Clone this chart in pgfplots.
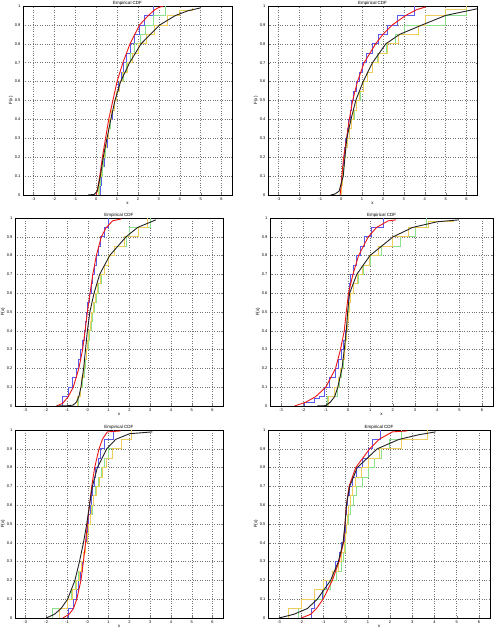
\documentclass[border=0pt]{standalone}
\usepackage{fontspec}
\setmainfont{Liberation Sans}
\usepackage{pgfplots}
\pgfplotsset{compat=1.18}

\definecolor{cdfred}{RGB}{240,20,20}
\definecolor{cdfblue}{RGB}{90,90,235}
\definecolor{cdfgreen}{RGB}{140,225,140}
\definecolor{cdfyellow}{RGB}{238,205,90}
\definecolor{cdfblack}{RGB}{35,35,35}

\pgfplotsset{
  ecdfpanel/.style={
    scale only axis, anchor=south west,
    xmin=-3.5, xmax=6.5, ymin=0, ymax=1,
    xtick={-3,-2,-1,0,1,2,3,4,5,6},
    ytick={0,0.1,0.2,0.3,0.4,0.5,0.6,0.7,0.8,0.9,1},
    grid=major, grid style={dotted, black!55, line width=0.45pt},
    tick align=inside, major tick length=1.5pt,
    tick label style={font=\fontsize{4}{4}\selectfont},
    /pgf/number format/assume math mode=true,
    xticklabel style={yshift=1pt}, yticklabel style={xshift=1pt},
    title={Empirical CDF},
    % default title style already carries yshift=6pt, shifts add up
    title style={font=\fontsize{4.5}{5}\selectfont, anchor=south, yshift=-6pt, inner sep=0.4pt},
    xlabel={x}, ylabel={F(x)},
    label style={font=\fontsize{4.5}{5}\selectfont},
    xlabel style={yshift=5pt}, ylabel style={yshift=-5pt},
    axis line style={line width=0.4pt},
  },
  stp/.style={const plot, line width=0.7pt, mark=none},
  crv/.style={line width=0.9pt, mark=none},
}

\begin{document}
\begin{tikzpicture}[x=1pt,y=1pt]
\useasboundingbox (0,0) rectangle (494,629);

% ---- panel 1 ----
\begin{axis}[ecdfpanel, at={(23pt,434pt)}, width=209pt, height=189pt]
\addplot[stp, cdfblue] coordinates {(0.18,0)(0.18,0.05)(0.25,0.1)(0.32,0.15)(0.38,0.2)(0.45,0.25)(0.52,0.3)(0.6,0.35)(0.68,0.4)(0.77,0.45)(0.85,0.5)(0.95,0.55)(1.05,0.6)(1.2,0.65)(1.3,0.7)(1.45,0.75)(1.62,0.8)(1.85,0.85)(2.08,0.9)(2.3,0.95)(2.75,1)};
\addplot[stp, cdfgreen] coordinates {(0.15,0)(0.15,0.05)(0.22,0.1)(0.28,0.15)(0.35,0.2)(0.42,0.25)(0.5,0.3)(0.58,0.35)(0.66,0.4)(0.75,0.45)(0.85,0.5)(0.98,0.55)(1.12,0.6)(1.28,0.65)(1.45,0.7)(1.65,0.75)(1.85,0.8)(2.1,0.85)(2.35,0.9)(2.75,0.95)(3.33,1)};
\addplot[stp, cdfyellow] coordinates {(0.1,0)(0.1,0.05)(0.17,0.1)(0.24,0.15)(0.3,0.2)(0.38,0.25)(0.48,0.3)(0.56,0.35)(0.65,0.4)(0.75,0.45)(0.85,0.5)(0.96,0.55)(1.1,0.6)(1.27,0.65)(1.5,0.7)(1.73,0.75)(2.0,0.8)(2.38,0.85)(2.8,0.9)(3.4,0.95)(4.0,0.975)(4.6,0.99)};
\addplot[crv, cdfred] coordinates {(0,0)(0.1,0.05)(0.2,0.12)(0.3,0.2)(0.45,0.3)(0.6,0.4)(0.8,0.5)(1.0,0.6)(1.28,0.7)(1.62,0.8)(2.08,0.9)(2.5,0.95)(2.8,0.98)(3.05,0.995)(3.2,0.997)};
\addplot[crv, cdfblack] coordinates {(-0.4,0)(-0.1,0.003)(0.05,0.02)(0.2,0.1)(0.34,0.2)(0.52,0.3)(0.7,0.4)(0.9,0.5)(1.17,0.6)(1.6,0.7)(2.15,0.8)(3.05,0.9)(3.8,0.95)(4.4,0.975)(5.0,0.99)};
\end{axis}

% ---- panel 2 ----
\begin{axis}[ecdfpanel, at={(268pt,434pt)}, width=209pt, height=189pt]
\addplot[stp, cdfblue] coordinates {(0,0)(0,0.05)(0.03,0.1)(0.06,0.15)(0.1,0.2)(0.15,0.25)(0.22,0.3)(0.29,0.35)(0.35,0.4)(0.43,0.45)(0.5,0.5)(0.6,0.55)(0.72,0.6)(0.85,0.65)(1.0,0.7)(1.2,0.75)(1.5,0.8)(1.8,0.85)(2.2,0.9)(2.7,0.95)(3.5,1)};
\addplot[stp, cdfgreen] coordinates {(0,0)(0,0.05)(0.05,0.1)(0.1,0.15)(0.15,0.2)(0.22,0.25)(0.3,0.3)(0.4,0.35)(0.5,0.4)(0.62,0.45)(0.75,0.5)(0.9,0.55)(1.05,0.6)(1.25,0.65)(1.5,0.7)(1.75,0.75)(2.15,0.8)(2.6,0.85)(3.0,0.9)(5.0,0.95)(6.0,0.98)};
\addplot[stp, cdfyellow] coordinates {(0,0)(0,0.05)(0.04,0.1)(0.08,0.15)(0.13,0.2)(0.2,0.25)(0.28,0.3)(0.38,0.35)(0.48,0.4)(0.6,0.45)(0.72,0.5)(0.88,0.55)(1.05,0.6)(1.25,0.65)(1.5,0.7)(1.8,0.75)(2.2,0.8)(2.75,0.85)(3.7,0.9)(4.05,0.95)(5.0,0.98)(6.0,1)};
\addplot[crv, cdfred] coordinates {(-0.05,0)(0,0.05)(0.05,0.12)(0.12,0.2)(0.26,0.3)(0.39,0.4)(0.55,0.5)(0.78,0.6)(1.1,0.7)(1.65,0.8)(2.0,0.85)(2.45,0.9)(3.09,0.95)(3.6,0.98)(4.04,0.995)};
\addplot[crv, cdfblack] coordinates {(-0.5,0)(-0.3,0.005)(-0.1,0.02)(0,0.06)(0.1,0.1)(0.18,0.2)(0.27,0.3)(0.47,0.4)(0.7,0.5)(1.05,0.6)(1.5,0.7)(2.14,0.8)(2.8,0.85)(3.88,0.9)(5.0,0.95)(6.5,0.985)};
\end{axis}

% ---- panel 3 ----
\begin{axis}[ecdfpanel, at={(15pt,223pt)}, width=208pt, height=188pt]
\addplot[stp, cdfblue] coordinates {(-1.2,0)(-1.2,0.05)(-0.95,0.1)(-0.75,0.15)(-0.55,0.2)(-0.45,0.25)(-0.35,0.3)(-0.25,0.35)(-0.18,0.4)(-0.12,0.45)(-0.05,0.5)(0.0,0.55)(0.08,0.6)(0.15,0.65)(0.22,0.7)(0.3,0.75)(0.4,0.8)(0.5,0.85)(0.62,0.9)(0.78,0.95)(1.0,1)};
\addplot[stp, cdfgreen] coordinates {(-0.45,0)(-0.45,0.05)(-0.35,0.1)(-0.25,0.15)(-0.18,0.2)(-0.1,0.25)(-0.05,0.3)(0.02,0.35)(0.08,0.4)(0.15,0.45)(0.22,0.5)(0.3,0.55)(0.4,0.6)(0.5,0.65)(0.65,0.7)(0.8,0.75)(1.0,0.8)(1.3,0.85)(1.85,0.9)(2.0,0.95)(3.0,1)};
\addplot[stp, cdfyellow] coordinates {(-0.5,0)(-0.5,0.05)(-0.38,0.1)(-0.3,0.15)(-0.22,0.2)(-0.15,0.25)(-0.08,0.3)(-0.02,0.35)(0.04,0.4)(0.1,0.45)(0.18,0.5)(0.25,0.55)(0.35,0.6)(0.45,0.65)(0.6,0.7)(0.78,0.75)(1.0,0.8)(1.3,0.85)(1.75,0.9)(2.45,0.95)(2.85,1)};
\addplot[crv, cdfred] coordinates {(-1.5,0)(-1.2,0.015)(-0.94,0.05)(-0.7,0.1)(-0.43,0.2)(-0.25,0.3)(-0.13,0.4)(-0.02,0.5)(0.11,0.6)(0.24,0.7)(0.41,0.8)(0.65,0.9)(0.89,0.95)(1.2,0.985)(1.6,0.995)};
\addplot[crv, cdfblack] coordinates {(-1.5,0)(-1.0,0.001)(-0.7,0.005)(-0.55,0.02)(-0.43,0.05)(-0.33,0.1)(-0.2,0.2)(-0.11,0.3)(-0.02,0.4)(0.1,0.5)(0.3,0.6)(0.57,0.7)(1.05,0.8)(1.84,0.9)(2.4,0.95)(3.27,0.99)};
\end{axis}

% ---- panel 4 ----
\begin{axis}[ecdfpanel, at={(270pt,223pt)}, width=223pt, height=188pt]
\addplot[stp, cdfblue] coordinates {(-1.95,0)(-1.95,0.02)(-1.5,0.04)(-1.3,0.05)(-1.05,0.1)(-0.85,0.15)(-0.55,0.2)(-0.42,0.25)(-0.32,0.3)(-0.22,0.35)(-0.12,0.4)(-0.05,0.5)(0.0,0.6)(0.05,0.65)(0.12,0.7)(0.22,0.75)(0.35,0.8)(0.55,0.85)(0.75,0.9)(1.05,0.95)(1.6,1)};
\addplot[stp, cdfgreen] coordinates {(-0.95,0)(-0.95,0.05)(-0.5,0.1)(-0.38,0.15)(-0.3,0.2)(-0.22,0.25)(-0.17,0.3)(-0.12,0.35)(-0.08,0.4)(-0.05,0.45)(-0.02,0.5)(0.03,0.55)(0.1,0.6)(0.25,0.65)(0.45,0.7)(0.7,0.75)(1.0,0.8)(1.5,0.85)(2.35,0.9)(3.0,0.95)(3.5,1)};
\addplot[stp, cdfyellow] coordinates {(-0.9,0)(-0.9,0.05)(-0.6,0.1)(-0.45,0.15)(-0.33,0.2)(-0.25,0.25)(-0.18,0.3)(-0.12,0.35)(-0.07,0.4)(-0.03,0.45)(0.0,0.5)(0.04,0.55)(0.1,0.6)(0.22,0.65)(0.4,0.7)(0.65,0.75)(0.95,0.8)(1.35,0.85)(2.0,0.9)(2.7,0.95)(3.6,0.98)(4.7,0.99)};
\addplot[crv, cdfred] coordinates {(-2.4,0)(-1.9,0.02)(-1.45,0.05)(-1.0,0.1)(-0.56,0.2)(-0.34,0.3)(-0.17,0.4)(-0.08,0.5)(0.02,0.6)(0.22,0.7)(0.47,0.8)(0.91,0.9)(1.28,0.95)(1.8,0.985)(2.15,0.99)};
\addplot[crv, cdfblack] coordinates {(-1.4,0)(-1.0,0.002)(-0.8,0.02)(-0.6,0.05)(-0.46,0.1)(-0.27,0.2)(-0.17,0.3)(-0.08,0.4)(-0.02,0.5)(0.07,0.6)(0.39,0.7)(0.98,0.8)(2.02,0.9)(2.9,0.95)(4.0,0.98)(4.97,0.99)};
\end{axis}

% ---- panel 5 ----
\begin{axis}[ecdfpanel, at={(15pt,11pt)}, width=208pt, height=188pt]
\addplot[stp, cdfblue] coordinates {(-0.95,0)(-0.95,0.05)(-0.7,0.1)(-0.55,0.15)(-0.45,0.2)(-0.35,0.25)(-0.28,0.3)(-0.2,0.35)(-0.12,0.4)(-0.05,0.45)(0.0,0.5)(0.05,0.55)(0.1,0.6)(0.15,0.65)(0.22,0.7)(0.3,0.75)(0.38,0.8)(0.5,0.85)(0.6,0.9)(0.8,0.95)(1.25,1)};
\addplot[stp, cdfgreen] coordinates {(-1.7,0)(-1.7,0.05)(-1.0,0.1)(-0.8,0.15)(-0.6,0.2)(-0.45,0.25)(-0.3,0.3)(-0.2,0.35)(-0.1,0.4)(-0.02,0.45)(0.05,0.5)(0.12,0.55)(0.2,0.6)(0.28,0.65)(0.38,0.7)(0.5,0.75)(0.65,0.8)(0.8,0.85)(1.0,0.9)(1.6,0.95)(2.1,1)};
\addplot[stp, cdfyellow] coordinates {(-1.35,0)(-1.35,0.05)(-1.0,0.1)(-0.75,0.15)(-0.55,0.2)(-0.42,0.25)(-0.3,0.3)(-0.2,0.35)(-0.1,0.4)(-0.03,0.45)(0.03,0.5)(0.1,0.55)(0.18,0.6)(0.28,0.65)(0.4,0.7)(0.55,0.75)(0.7,0.8)(0.9,0.85)(1.2,0.9)(1.6,0.95)(2.1,1)};
\addplot[crv, cdfred] coordinates {(-1.2,0)(-0.9,0.02)(-0.69,0.05)(-0.53,0.1)(-0.33,0.2)(-0.21,0.3)(-0.11,0.4)(-0.02,0.5)(0.08,0.6)(0.19,0.7)(0.33,0.8)(0.54,0.9)(0.7,0.95)(0.94,0.99)(1.58,0.995)};
\addplot[crv, cdfblack] coordinates {(-2.0,0)(-1.6,0.02)(-1.29,0.05)(-0.97,0.1)(-0.62,0.2)(-0.4,0.3)(-0.21,0.4)(-0.05,0.5)(0.08,0.6)(0.22,0.7)(0.46,0.8)(0.91,0.9)(1.34,0.95)(2.0,0.98)(3.1,0.99)};
\end{axis}

% ---- panel 6 ----
\begin{axis}[ecdfpanel, at={(268pt,11pt)}, width=222pt, height=188pt]
\addplot[stp, cdfblue] coordinates {(-1.55,0)(-1.55,0.05)(-1.4,0.1)(-1.05,0.15)(-0.85,0.2)(-0.6,0.25)(-0.45,0.3)(-0.3,0.35)(-0.18,0.4)(-0.08,0.45)(-0.02,0.5)(0.0,0.55)(0.03,0.6)(0.08,0.65)(0.15,0.7)(0.3,0.75)(0.5,0.8)(0.75,0.85)(1.0,0.9)(1.2,0.95)(1.55,1)};
\addplot[stp, cdfgreen] coordinates {(-2.15,0)(-2.15,0.05)(-2.0,0.1)(-1.0,0.15)(-0.7,0.2)(-0.4,0.25)(-0.2,0.3)(-0.1,0.35)(-0.03,0.4)(0.0,0.45)(0.05,0.5)(0.1,0.55)(0.2,0.6)(0.35,0.65)(0.5,0.7)(0.75,0.75)(1.0,0.8)(1.3,0.85)(1.6,0.9)(1.95,0.95)(2.5,1)};
\addplot[stp, cdfyellow] coordinates {(-2.6,0)(-2.6,0.05)(-2.0,0.1)(-1.4,0.15)(-1.0,0.2)(-0.6,0.25)(-0.35,0.3)(-0.18,0.35)(-0.08,0.4)(-0.02,0.45)(0.02,0.5)(0.06,0.55)(0.12,0.6)(0.2,0.65)(0.3,0.7)(0.45,0.75)(0.7,0.8)(1.0,0.85)(1.5,0.9)(2.5,0.95)(3.7,1)};
\addplot[crv, cdfred] coordinates {(-2.0,0)(-1.57,0.02)(-1.32,0.05)(-1.02,0.1)(-0.6,0.2)(-0.3,0.3)(-0.1,0.4)(-0.03,0.5)(0.03,0.6)(0.15,0.7)(0.45,0.8)(1.08,0.9)(1.5,0.95)(2.1,0.99)(2.78,0.995)};
\addplot[crv, cdfblack] coordinates {(-3.0,0)(-2.33,0.02)(-1.73,0.05)(-1.28,0.1)(-0.68,0.2)(-0.33,0.3)(-0.12,0.4)(-0.03,0.5)(0.03,0.6)(0.18,0.7)(0.52,0.8)(1.42,0.9)(2.4,0.95)(3.3,0.975)(4.05,0.99)};
\end{axis}
\end{tikzpicture}
\end{document}
